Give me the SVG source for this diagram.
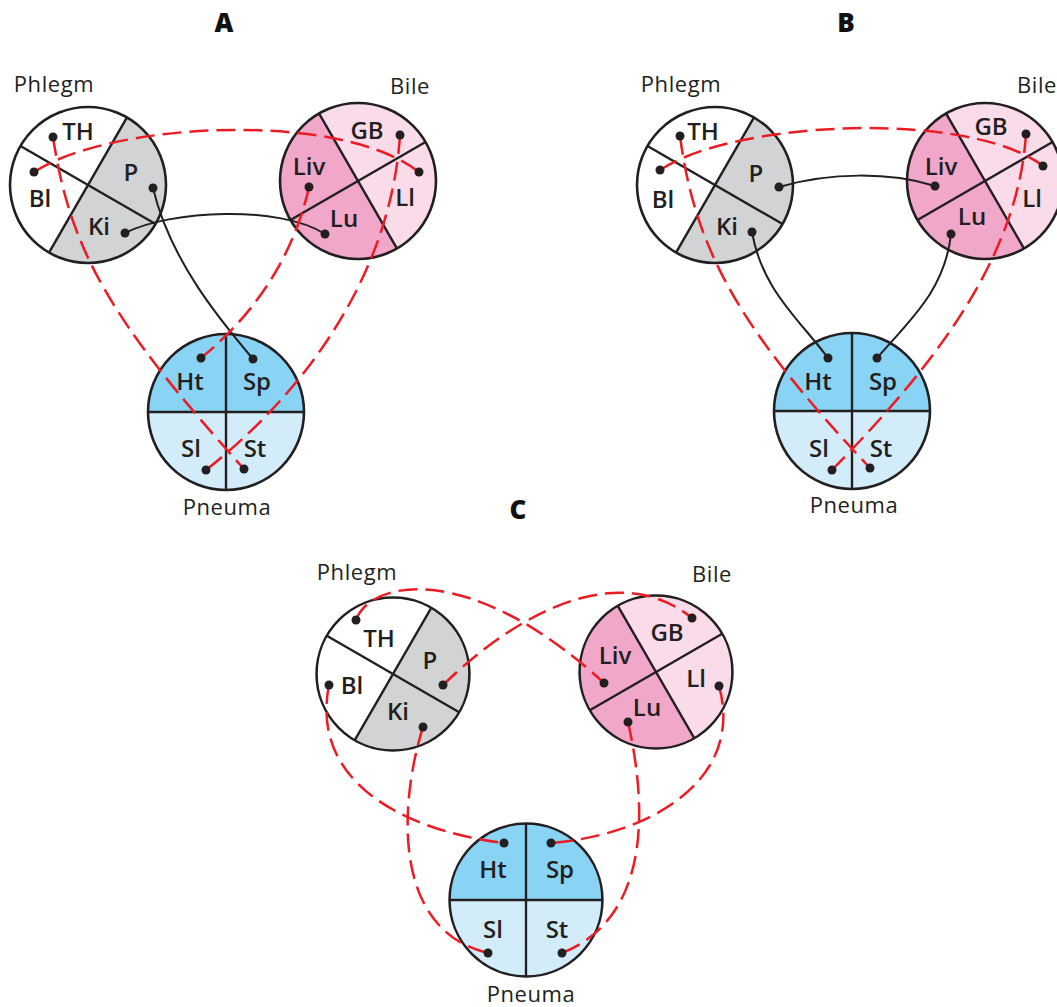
<svg xmlns="http://www.w3.org/2000/svg" width="1057" height="1007" viewBox="0 0 1057 1007">
<style>
.title{font-family:"Open Sans","Noto Sans",sans-serif;font-weight:800;font-size:26px;fill:#111111;text-anchor:middle}
.name{font-family:"Open Sans","Noto Sans",sans-serif;font-size:22px;letter-spacing:0.6px;fill:#231f20;text-anchor:middle}
.seg{font-family:"Open Sans","Noto Sans",sans-serif;font-weight:600;font-size:24px;fill:#231f20;text-anchor:middle}
.rim{fill:none;stroke:#231f20;stroke-width:2.6}
.div{stroke:#231f20;stroke-width:2.4;fill:none}
.white{fill:#ffffff}
.gray{fill:#d2d3d5}
.lpink{fill:#f9dbe9}
.dpink{fill:#f0a7c9}
.lblue{fill:#d3ecfa}
.dblue{fill:#89d3f4}
.dot{fill:#231f20}
.solid{fill:none;stroke:#231f20;stroke-width:2}
.dash{fill:none;stroke:#ec1c24;stroke-width:2.5;stroke-dasharray:19 8}
</style>
<defs>
<g id="phlegmBase">
<circle r="78" class="white"/>
<path d="M39,-67.55 A78,78 0 0 1 -39,67.55 Z" class="gray"/>
<line x1="-67.55" y1="-39" x2="67.55" y2="39" class="div"/>
<line x1="39" y1="-67.55" x2="-39" y2="67.55" class="div"/>
<circle r="78" class="rim"/>
</g>
<g id="bileBase">
<circle r="78" class="lpink"/>
<path d="M39,67.55 A78,78 0 0 1 -39,-67.55 Z" class="dpink"/>
<line x1="-39" y1="-67.55" x2="39" y2="67.55" class="div"/>
<line x1="67.55" y1="-39" x2="-67.55" y2="39" class="div"/>
<circle r="78" class="rim"/>
</g>
<g id="pneumaBase">
<circle r="78" class="lblue"/>
<path d="M-78,0 A78,78 0 0 1 78,0 Z" class="dblue"/>
<line x1="0" y1="-78" x2="0" y2="78" class="div"/>
<line x1="-78" y1="0" x2="78" y2="0" class="div"/>
<circle r="78" class="rim"/>
</g>
</defs>

<g id="titles">
<text class="title" x="224" y="32">A</text>
<text class="title" x="846" y="32">B</text>
<text class="title" x="518" y="519">C</text>
</g>

<!-- Panel A -->
<g id="A-phlegm" transform="translate(88,185)">
<use href="#phlegmBase"/>
<text class="seg" x="-10" y="-45">TH</text>
<text class="seg" x="43" y="-4">P</text>
<text class="seg" x="-48" y="22">Bl</text>
<text class="seg" x="11" y="50">Ki</text>
<text class="name" x="-34" y="-93">Phlegm</text>
</g>
<g id="A-bile" transform="translate(358,181)">
<use href="#bileBase"/>
<text class="seg" x="9" y="-42">GB</text>
<text class="seg" x="-49" y="-6">Liv</text>
<text class="seg" x="47" y="25">Ll</text>
<text class="seg" x="-14" y="46">Lu</text>
<text class="name" x="52" y="-87">Bile</text>
</g>
<g id="A-pneuma" transform="translate(226,412)">
<use href="#pneumaBase"/>
<text class="seg" x="-36" y="-22">Ht</text>
<text class="seg" x="31" y="-22">Sp</text>
<text class="seg" x="-35" y="45">Sl</text>
<text class="seg" x="29" y="45">St</text>
<text class="name" x="1" y="103">Pneuma</text>
</g>
<g id="A-connectors">
<path class="solid" d="M153,188 C170,260 220,320 253,359"/>
<path class="solid" d="M125,233 C170,210 280,205 325,234"/>
<path class="dash" d="M34,172 C110,122 340,110 419,172"/>
<path class="dash" d="M400,135 C392,260 320,380 206,470"/>
<path class="dash" d="M309,187 C295,250 260,310 201,358"/>
<path class="dash" d="M53,137 C70,250 110,320 244,469"/>
<g class="dot">
<circle cx="53" cy="137" r="4.5"/><circle cx="34" cy="172" r="4.5"/><circle cx="153" cy="188" r="4.5"/><circle cx="125" cy="233" r="4.5"/>
<circle cx="400" cy="135" r="4.5"/><circle cx="309" cy="187" r="4.5"/><circle cx="419" cy="172" r="4.5"/><circle cx="325" cy="234" r="4.5"/>
<circle cx="201" cy="358" r="4.5"/><circle cx="253" cy="359" r="4.5"/><circle cx="206" cy="470" r="4.5"/><circle cx="244" cy="469" r="4.5"/>
</g>
</g>

<!-- Panel B -->
<g id="B-phlegm" transform="translate(715,185)">
<use href="#phlegmBase"/>
<text class="seg" x="-12" y="-45">TH</text>
<text class="seg" x="41" y="-3">P</text>
<text class="seg" x="-52" y="23">Bl</text>
<text class="seg" x="12" y="50">Ki</text>
<text class="name" x="-34" y="-93">Phlegm</text>
</g>
<g id="B-bile" transform="translate(985,181)">
<use href="#bileBase"/>
<text class="seg" x="6" y="-46">GB</text>
<text class="seg" x="-44" y="-6">Liv</text>
<text class="seg" x="47" y="26">Ll</text>
<text class="seg" x="-13" y="44">Lu</text>
<text class="name" x="52" y="-88">Bile</text>
</g>
<g id="B-pneuma" transform="translate(852,411)">
<use href="#pneumaBase"/>
<text class="seg" x="-34" y="-21">Ht</text>
<text class="seg" x="31" y="-21">Sp</text>
<text class="seg" x="-33" y="46">Sl</text>
<text class="seg" x="29" y="46">St</text>
<text class="name" x="2" y="102">Pneuma</text>
</g>
<g id="B-connectors">
<path class="solid" d="M779,187 C830,172 890,172 935,186"/>
<path class="solid" d="M752,232 C762,290 800,320 828,358"/>
<path class="solid" d="M951,234 C945,290 910,320 877,358"/>
<path class="dash" d="M660,170 C735,120 970,110 1043,166"/>
<path class="dash" d="M680,136 C695,250 740,330 870,468"/>
<path class="dash" d="M1026,134 C1018,260 930,370 832,470"/>
<g class="dot">
<circle cx="680" cy="136" r="4.5"/><circle cx="660" cy="170" r="4.5"/><circle cx="779" cy="187" r="4.5"/><circle cx="752" cy="232" r="4.5"/>
<circle cx="1026" cy="134" r="4.5"/><circle cx="935" cy="186" r="4.5"/><circle cx="1043" cy="166" r="4.5"/><circle cx="951" cy="234" r="4.5"/>
<circle cx="828" cy="358" r="4.5"/><circle cx="877" cy="358" r="4.5"/><circle cx="832" cy="470" r="4.5"/><circle cx="870" cy="468" r="4.5"/>
</g>
</g>

<!-- Panel C -->
<g id="C-phlegm" transform="translate(393,674)">
<use href="#phlegmBase" transform="scale(0.98)"/>
<text class="seg" x="-14" y="-27">TH</text>
<text class="seg" x="37" y="-5">P</text>
<text class="seg" x="-41" y="20">Bl</text>
<text class="seg" x="5" y="46">Ki</text>
<text class="name" x="-36" y="-94">Phlegm</text>
</g>
<g id="C-bile" transform="translate(656,672)">
<use href="#bileBase" transform="scale(0.98)"/>
<text class="seg" x="11" y="-31">GB</text>
<text class="seg" x="-41" y="-8">Liv</text>
<text class="seg" x="40" y="15">Ll</text>
<text class="seg" x="-9" y="44">Lu</text>
<text class="name" x="56" y="-90">Bile</text>
</g>
<g id="C-pneuma" transform="translate(526,900)">
<use href="#pneumaBase" transform="scale(0.98)"/>
<text class="seg" x="-33" y="-22">Ht</text>
<text class="seg" x="34" y="-22">Sp</text>
<text class="seg" x="-33" y="38">Sl</text>
<text class="seg" x="31" y="38">St</text>
<text class="name" x="5" y="102">Pneuma</text>
</g>
<g id="C-connectors">
<path class="dash" d="M356,620 C370,580 470,560 604,683"/>
<path class="dash" d="M443,685 C520,610 620,560 692,618"/>
<path class="dash" d="M329,685 C310,780 400,830 504,843"/>
<path class="dash" d="M423,727 C400,800 390,930 488,953"/>
<path class="dash" d="M719,686 C745,780 650,835 551,843"/>
<path class="dash" d="M628,722 C650,820 645,920 562,953"/>
<g class="dot">
<circle cx="356" cy="620" r="4.5"/><circle cx="329" cy="685" r="4.5"/><circle cx="443" cy="685" r="4.5"/><circle cx="423" cy="727" r="4.5"/>
<circle cx="692" cy="618" r="4.5"/><circle cx="604" cy="683" r="4.5"/><circle cx="719" cy="686" r="4.5"/><circle cx="628" cy="722" r="4.5"/>
<circle cx="504" cy="843" r="4.5"/><circle cx="551" cy="843" r="4.5"/><circle cx="488" cy="953" r="4.5"/><circle cx="562" cy="953" r="4.5"/>
</g>
</g>
</svg>
